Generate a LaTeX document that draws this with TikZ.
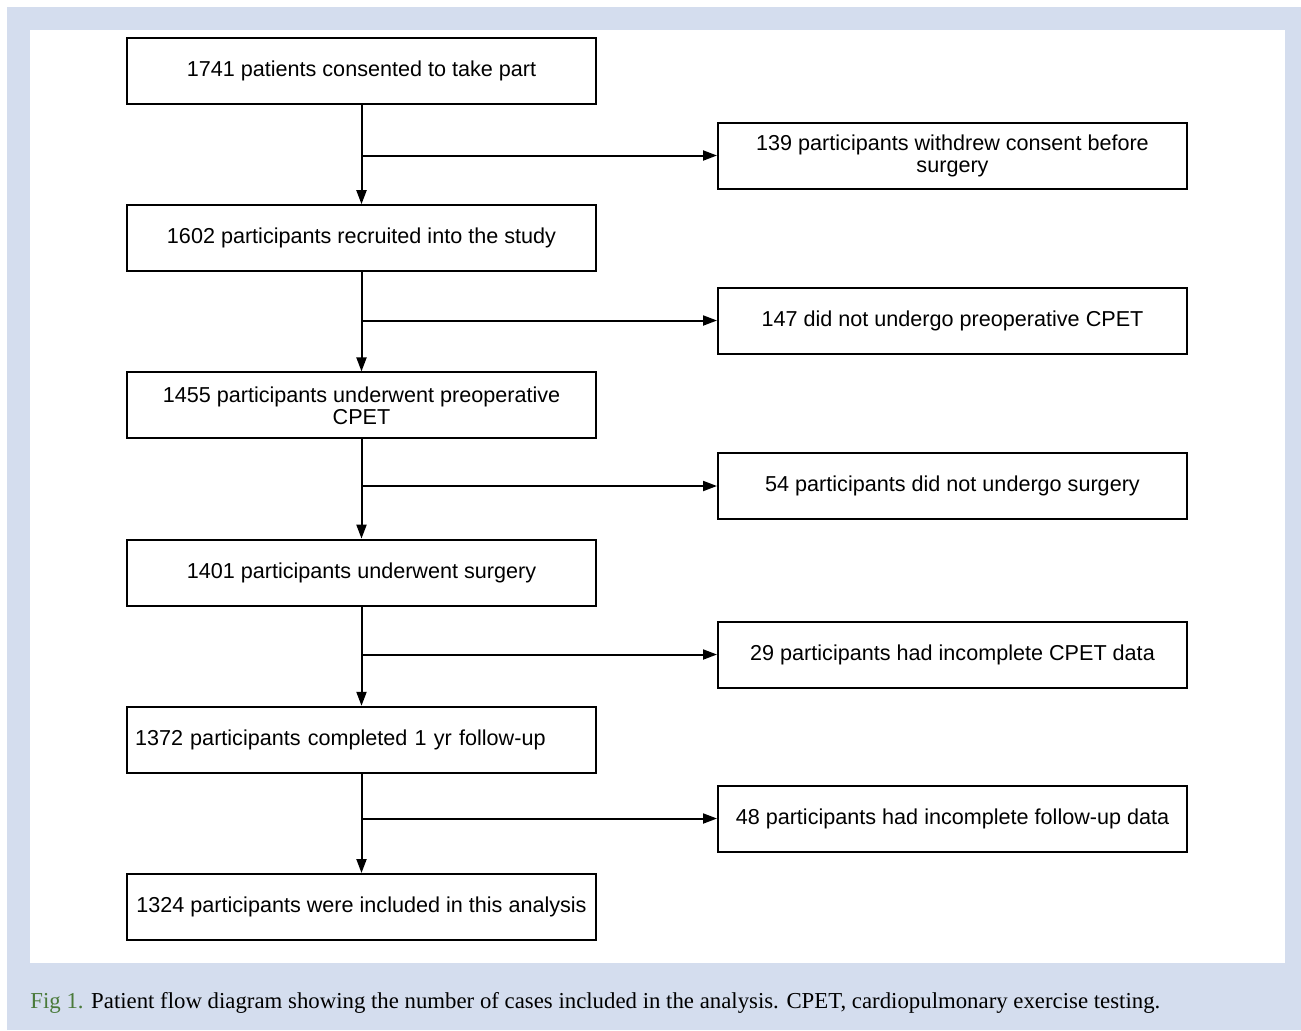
\documentclass[tikz,border=0pt]{standalone}
\usepackage{fontspec}
\setmainfont{Liberation Serif}
\newfontfamily\boxfont{Liberation Sans}
\usepackage{xcolor}
\usetikzlibrary{arrows.meta,positioning}
\definecolor{panelblue}{HTML}{D4DDEE}
\definecolor{figgreen}{HTML}{4A7A3A}

\begin{document}
\begin{tikzpicture}[
    x=0.5pt, y=-0.5pt,
    node distance=49.6pt,
    box/.style={draw, line width=1pt, align=center, inner sep=2pt,
                minimum width=234.5pt, minimum height=33pt,
                font=\boxfont\fontsize{10.8}{11}\selectfont},
    stage/.style={box},
    leftstage/.style={box, align=left, text width=226.5pt, inner xsep=4pt},
    excl/.style={box},
    arr/.style={-{Triangle[length=7pt,width=5pt]}, line width=1pt},
  ]
  % background panel
  \useasboundingbox (0,0) rectangle (1301,1030);
  \fill[panelblue] (7,7) rectangle (1301,1030);
  \fill[white] (30,30) rectangle (1285,963);

  % main stages
  \node[stage] (consent) at (361.5,71) {1741 patients consented to take part};
  \node[stage, below=of consent] (recruit) {1602 participants recruited into the study};
  \node[stage, below=of recruit] (cpet) {1455 participants underwent preoperative\\ CPET};
  \node[stage, below=of cpet] (surg) {1401 participants underwent surgery};
  \node[leftstage, below=of surg] (follow) {1372 participants completed 1 yr follow-up};
  \node[stage, below=of follow] (incl) {1324 participants were included in this analysis};

  % exclusions
  \node[excl] (withdrew) at (952.5,155.5) {139 participants withdrew consent before\\ surgery};
  \node[excl] (nocpet)   at (952.5,320.5) {147 did not undergo preoperative CPET};
  \node[excl] (nosurg)   at (952.5,486)   {54 participants did not undergo surgery};
  \node[excl] (nodata)   at (952.5,654.5) {29 participants had incomplete CPET data};
  \node[excl] (nofollow) at (952.5,818.5) {48 participants had incomplete follow-up data};

  \draw[arr] (consent) -- (recruit);
  \draw[arr] (recruit) -- (cpet);
  \draw[arr] (cpet) -- (surg);
  \draw[arr] (surg) -- (follow);
  \draw[arr] (follow) -- (incl);

  \draw[arr] (consent |- withdrew) -- (withdrew);
  \draw[arr] (recruit |- nocpet) -- (nocpet);
  \draw[arr] (cpet |- nosurg) -- (nosurg);
  \draw[arr] (surg |- nodata) -- (nodata);
  \draw[arr] (follow |- nofollow) -- (nofollow);

  % caption
  \node[anchor=west, inner sep=0pt, font=\fontsize{11.4}{13}\selectfont] (caption) at (30,1003)
    {\textcolor{figgreen}{Fig 1.} Patient flow diagram showing the number of cases included in the analysis. CPET, cardiopulmonary exercise testing.};
\end{tikzpicture}
\end{document}
